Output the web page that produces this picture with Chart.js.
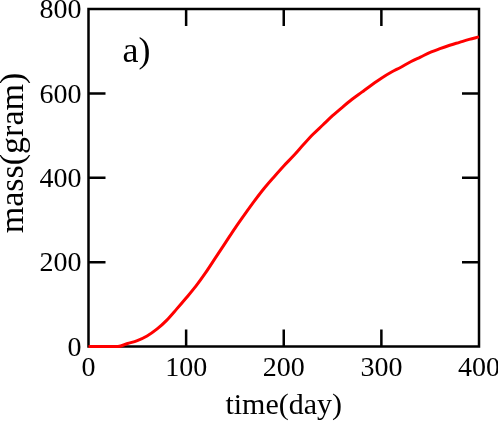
<!DOCTYPE html>
<html>
<head>
<meta charset="utf-8">
<script src="https://cdn.jsdelivr.net/npm/chart.js@4.4.0/dist/chart.umd.min.js"></script>
<style>
  html, body { margin: 0; padding: 0; background: #fff; }
  #wrap { width: 498px; height: 425px; }
</style>
</head>
<body>
<div id="wrap"><canvas id="massChart"></canvas></div>
<script>
// time in days, mass in grams
const days = [0, 10, 20, 30, 40, 50, 60, 70, 80, 90, 100, 110, 120, 130, 140, 150, 160, 170, 180, 190,
  200, 210, 220, 230, 240, 250, 260, 270, 280, 290, 300, 310, 320, 330, 340, 350, 360, 370, 380, 390, 400];
const mass = [0, 0, 0, 0, 7, 14, 25, 41, 62, 88, 115, 143, 175, 210, 245, 280, 313, 345, 375, 402,
  428, 452, 478, 503, 525, 547, 567, 586, 603, 620, 636, 650, 662, 675, 686, 697, 706, 714, 721, 728, 734];
const xTicks = [0, 100, 200, 300, 400];
const yTicks = [0, 200, 400, 600, 800];

const serif = "'Liberation Serif', 'Times New Roman', serif";

// frame + inward tick marks on all four sides, the panel label and the y title
const framePlugin = {
  id: 'frame',
  beforeDatasetsDraw(chart) {
    const ctx = chart.ctx;
    const a = chart.chartArea;
    const xs = chart.scales.x, ys = chart.scales.y;
    const len = 17;
    ctx.save();
    ctx.strokeStyle = '#000';
    ctx.lineWidth = 2.5;
    ctx.strokeRect(a.left, a.top, a.right - a.left, a.bottom - a.top);
    ctx.beginPath();
    xTicks.slice(1, -1).forEach(v => {
      const px = xs.getPixelForValue(v);
      ctx.moveTo(px, a.bottom); ctx.lineTo(px, a.bottom - len);
      ctx.moveTo(px, a.top); ctx.lineTo(px, a.top + len);
    });
    yTicks.slice(1, -1).forEach(v => {
      const py = ys.getPixelForValue(v);
      ctx.moveTo(a.left, py); ctx.lineTo(a.left + len, py);
      ctx.moveTo(a.right, py); ctx.lineTo(a.right - len, py);
    });
    ctx.stroke();
    ctx.fillStyle = '#000';
    ctx.font = '36px ' + serif;
    ctx.textBaseline = 'alphabetic';
    ctx.fillText('a)', a.left + 34, a.top + 53);

    // y title, sits a bit above the middle of the axis in the original
    ctx.translate(23, 153);
    ctx.rotate(-Math.PI / 2);
    ctx.font = '34px ' + serif;
    ctx.textAlign = 'center';
    ctx.fillText('mass(gram)', 0, 0);
    ctx.restore();
  }
};

new Chart(document.getElementById('massChart'), {
  type: 'line',
  data: {
    labels: days,
    datasets: [{
      data: days.map((d, i) => ({ x: d, y: mass[i] })),
      borderColor: '#ff0000',
      borderWidth: 3,
      pointRadius: 0,
      cubicInterpolationMode: 'monotone',
      fill: false,
      clip: false
    }]
  },
  options: {
    responsive: true,
    maintainAspectRatio: false,
    animation: false,
    layout: { padding: { top: 9, right: 19, left: 0, bottom: 0 } },
    plugins: { legend: { display: false }, tooltip: { enabled: false } },
    scales: {
      x: {
        type: 'linear',
        min: 0, max: 400,
        afterBuildTicks: s => { s.ticks = xTicks.map(v => ({ value: v })); },
        afterFit: s => { s.height = 78.5; s.paddingLeft = 0; s.paddingRight = 0; },
        grid: { display: false, drawTicks: false },
        border: { display: false },
        ticks: { color: '#000', padding: 5, font: { family: serif, size: 28 } },
        title: { display: true, text: 'time(day)', color: '#000', padding: { top: 0, bottom: 1 },
          font: { family: serif, size: 30 } }
      },
      y: {
        min: 0, max: 800,
        afterBuildTicks: s => { s.ticks = yTicks.map(v => ({ value: v })); },
        afterFit: s => { s.width = 88.5; s.paddingTop = 0; s.paddingBottom = 0; },
        grid: { display: false, drawTicks: false },
        border: { display: false },
        ticks: { color: '#000', padding: 7, labelOffset: 2, font: { family: serif, size: 28 } }
      }
    }
  },
  plugins: [framePlugin]
});
</script>
</body>
</html>
